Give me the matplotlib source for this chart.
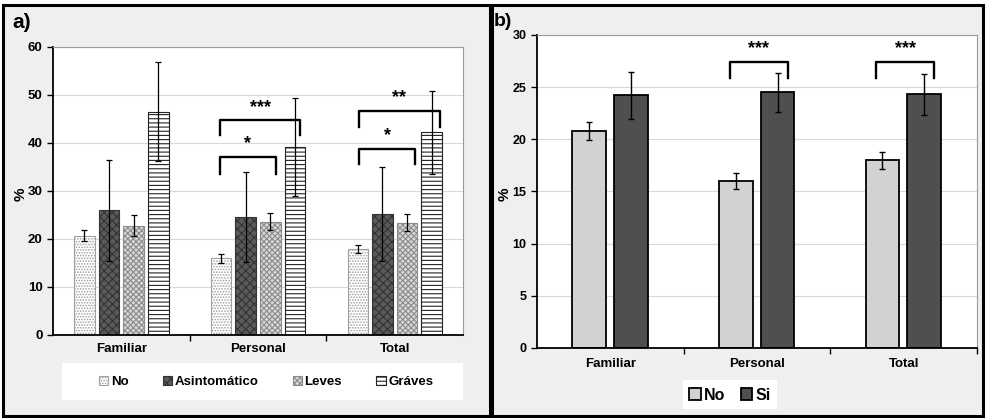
import numpy as np
import matplotlib.pyplot as plt
from matplotlib.patches import Rectangle

plt.rcParams['font.family'] = ['Liberation Sans', 'DejaVu Sans']
plt.rcParams['font.weight'] = 'bold'
plt.rcParams['hatch.linewidth'] = 0.8

# datos panel a)
categorias = ['Familiar', 'Personal', 'Total']
grupos_a = ['No', 'Asintomático', 'Leves', 'Gráves']
val_no = [20.7, 16.0, 18.0]
val_asint = [26.0, 24.6, 25.2]
val_leves = [22.8, 23.6, 23.4]
val_graves = [46.5, 39.2, 42.2]
err_no = [1.1, 0.9, 0.85]
err_asint = [10.5, 9.4, 9.8]
err_leves = [2.2, 1.8, 1.8]
err_graves = [10.3, 10.2, 8.6]

# datos panel b)
grupos_b = ['No', 'Si']
b_no = [20.8, 16.0, 18.0]
b_si = [24.2, 24.5, 24.3]
b_err_no = [0.9, 0.75, 0.8]
b_err_si = [2.3, 1.9, 1.95]

fig = plt.figure(figsize=(9.86, 4.19), dpi=100)
fig.patch.set_facecolor('white')

# fondos y marcos de los paneles
for x0, w in [(0.003, 0.494), (0.499, 0.498)]:
    fig.patches.append(Rectangle((x0, 0.006), w, 0.982, transform=fig.transFigure,
                                 facecolor='#efefef', edgecolor='black', linewidth=2.2, zorder=-5))
# cajas blancas de las leyendas
for bx0, by0, bw, bh in [(62, 363, 401, 37), (683, 380, 94, 29)]:
    fig.patches.append(Rectangle((bx0 / 986, 1 - (by0 + bh) / 419), bw / 986, bh / 419,
                                 transform=fig.transFigure, facecolor='white',
                                 edgecolor='none', zorder=-4))

x = np.arange(len(categorias))

# ---------- a) ----------
ax = fig.add_axes([0.0538, 0.2005, 0.4158, 0.6874])
ax.set_facecolor('white')
w = 0.15
offs = [-0.27, -0.09, 0.09, 0.27]
estilos = [
    dict(color='white', hatch='......', edgecolor='#a0a0a0'),
    dict(color='#5a5a5a', hatch='xxxx', edgecolor='#333333'),
    dict(color='#d8d8d8', hatch='xxxxxx', edgecolor='#8a8a8a'),
    dict(color='white', hatch='----', edgecolor='#222222'),
]
vals = [val_no, val_asint, val_leves, val_graves]
errs = [err_no, err_asint, err_leves, err_graves]
for v, e, o, st, lab in zip(vals, errs, offs, estilos, grupos_a):
    ax.bar(x + o, v, w, facecolor=st['color'], hatch=st['hatch'], edgecolor=st['edgecolor'],
           linewidth=0.8, label=lab, zorder=2)
    ax.errorbar(x + o, v, yerr=e, fmt='none', ecolor='black', elinewidth=0.9,
                capsize=2.5, capthick=0.9, zorder=3)

ax.set_ylim(0, 60)
ax.set_xlim(-0.5, 2.5)
ax.set_yticks(range(0, 61, 10))
ax.set_xticks(x)
ax.set_xticklabels(categorias, fontsize=9.5, fontweight='bold')
ax.set_xticks([0.5, 1.5], minor=True)
ax.tick_params(axis='x', which='major', length=0, pad=6)
ax.tick_params(axis='x', which='minor', length=4, width=1, direction='out')
ax.tick_params(axis='y', length=4, width=1, labelsize=9.5, direction='out')
ax.yaxis.grid(True, color='#d9d9d9', linewidth=0.8, zorder=0)
ax.set_axisbelow(True)
ax.set_ylabel('%', fontsize=11, fontweight='bold')
ax.yaxis.set_label_coords(-0.062, 0.49)
for s in ['top', 'right']:
    ax.spines[s].set_color('#9a9a9a')
for s in ['left', 'bottom']:
    ax.spines[s].set_color('black')
    ax.spines[s].set_linewidth(1.3)


def corchete(axis, x1, x2, y, h, texto, fs=13):
    axis.plot([x1, x1, x2, x2], [y - h, y, y, y - h], color='black', linewidth=1.7, zorder=4)
    axis.text((x1 + x2) / 2, y + h * 0.3, texto, ha='center', va='bottom', fontsize=fs,
              fontweight='bold', zorder=4)


corchete(ax, 1 - 0.28, 1 + 0.31, 44.7, 3.1, '***')
corchete(ax, 1 - 0.28, 1 + 0.13, 37.1, 3.5, '*')
corchete(ax, 2 - 0.26, 2 + 0.33, 46.6, 3.3, '**')
corchete(ax, 2 - 0.26, 2 + 0.15, 38.8, 3.2, '*')

leg = ax.legend(ncol=4, loc='center', bbox_to_anchor=(266 / 986, 1 - 382 / 419),
                bbox_transform=fig.transFigure, frameon=False,
                handlelength=0.7, handleheight=0.7, handletextpad=0.2, columnspacing=2.6,
                prop={'weight': 'bold', 'size': 9.5})

fig.text(12 / 986, 1 - 22 / 419, 'a)', fontsize=15, fontweight='bold', va='center', ha='left')

# ---------- b) ----------
bx = fig.add_axes([0.5446, 0.1695, 0.4463, 0.747])
bx.set_facecolor('white')
wb = 0.23
bx.bar(x - 0.145, b_no, wb, facecolor='#d2d2d2', edgecolor='black', linewidth=1.3,
       label=grupos_b[0], zorder=2)
bx.bar(x + 0.14, b_si, wb, facecolor='#4f4f4f', edgecolor='black', linewidth=1.3,
       label=grupos_b[1], zorder=2)
bx.errorbar(x - 0.145, b_no, yerr=b_err_no, fmt='none', ecolor='black', elinewidth=1,
            capsize=2.5, capthick=1, zorder=3)
bx.errorbar(x + 0.14, b_si, yerr=b_err_si, fmt='none', ecolor='black', elinewidth=1,
            capsize=2.5, capthick=1, zorder=3)

bx.set_ylim(0, 30)
bx.set_xlim(-0.5, 2.5)
bx.set_yticks(range(0, 31, 5))
bx.set_xticks(x)
bx.set_xticklabels(categorias, fontsize=9.5, fontweight='bold')
bx.set_xticks([0.5, 1.5, 2.5], minor=True)
bx.tick_params(axis='x', which='major', length=0, pad=7)
bx.tick_params(axis='x', which='minor', length=4, width=1, direction='out')
bx.tick_params(axis='y', length=4, width=1, labelsize=9, direction='out')
bx.yaxis.grid(True, color='#d9d9d9', linewidth=0.8, zorder=0)
bx.set_axisbelow(True)
bx.set_ylabel('%', fontsize=11, fontweight='bold')
bx.yaxis.set_label_coords(-0.058, 0.49)
for s in ['top', 'right']:
    bx.spines[s].set_color('#9a9a9a')
for s in ['left', 'bottom']:
    bx.spines[s].set_color('black')
    bx.spines[s].set_linewidth(1.3)

corchete(bx, 1 - 0.186, 1 + 0.21, 27.4, 1.5, '***')
corchete(bx, 2 - 0.186, 2 + 0.21, 27.4, 1.5, '***')

legb = bx.legend(ncol=2, loc='center', bbox_to_anchor=(730 / 986, 1 - 395 / 419),
                 bbox_transform=fig.transFigure, frameon=False,
                 handlelength=0.7, handleheight=0.7, handletextpad=0.2, columnspacing=1.0,
                 prop={'weight': 'bold', 'size': 11.5})

fig.text(494 / 986, 1 - 21 / 419, 'b)', fontsize=14, fontweight='bold', va='center', ha='left')

plt.savefig('out.png', dpi=100, facecolor=fig.get_facecolor())
